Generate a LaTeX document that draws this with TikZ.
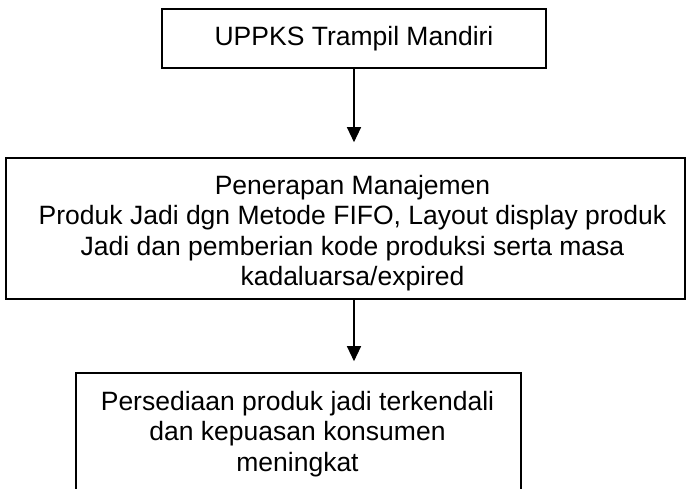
\documentclass[tikz,border=0pt]{standalone}
\usepackage{fontspec}
\setmainfont{Liberation Sans}
\usetikzlibrary{arrows.meta}
\begin{document}
\begin{tikzpicture}[x=1pt,y=-1pt,
  boxstyle/.style={draw=black, line width=1.6pt, rectangle, inner sep=0pt},
  txt/.style={font=\fontsize{26.5}{30.5}\selectfont, align=center, inner sep=0pt},
  arr/.style={draw=black, line width=1.3pt, -{Triangle[width=14pt,length=15pt]}}]
\clip (0,0) rectangle (687,489);
\fill[white] (0,0) rectangle (687,489);
\node[boxstyle, txt, minimum width=384pt, minimum height=59pt] (top) at (354,38.5) {UPPKS Trampil Mandiri};
\node[boxstyle, minimum width=679pt, minimum height=141pt] (mid) at (345.5,228.5) {};
\node[txt, anchor=north] (midtext) at (352.5,175) {Penerapan Manajemen\\Produk Jadi dgn Metode FIFO, Layout display produk\\Jadi dan pemberian kode produksi serta masa\\kadaluarsa/expired};
\node[boxstyle, minimum width=445pt, minimum height=140pt] (bot) at (298.5,443) {};
\node[txt, anchor=north] (bottext) at (297.5,391) {Persediaan produk jadi terkendali\\dan kepuasan konsumen\\meningkat};
\draw[arr, shorten >=15pt] (top.south) -- (mid.north -| top.south);
\draw[arr, shorten >=11pt] (mid.south -| top.south) -- (bot.north -| top.south);
\end{tikzpicture}
\end{document}
